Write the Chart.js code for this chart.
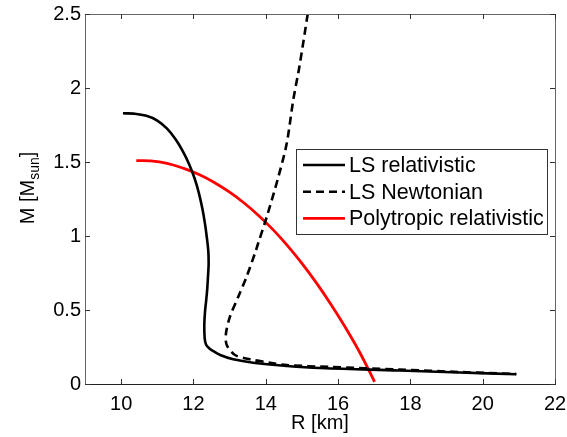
<!DOCTYPE html>
<html>
<head>
<meta charset="utf-8">
<script src="https://cdn.jsdelivr.net/npm/chart.js@4"></script>
<style>
  html, body { margin: 0; padding: 0; background: #fff; }
  canvas { display: block; }
</style>
</head>
<body>
<canvas id="grafico" width="567" height="437"></canvas>
<script>
// valori (R in km, M in masse solari)
const lsRelR = [10.05, 10.35, 10.7, 11.0, 11.27, 11.5, 11.7, 11.88, 12.03, 12.15, 12.25, 12.32, 12.37, 12.41, 12.42, 12.41, 12.38, 12.35, 12.32, 12.30, 12.31, 12.35, 12.45, 12.55, 12.74, 13.10, 13.65, 14.59, 15.5, 17.7, 19.36, 20.93]
const lsRelM = [1.829, 1.827, 1.812, 1.78, 1.725, 1.655, 1.575, 1.485, 1.39, 1.29, 1.18, 1.08, 0.99, 0.90, 0.82, 0.76, 0.64, 0.56, 0.49, 0.40, 0.31, 0.265, 0.238, 0.222, 0.196, 0.167, 0.144, 0.122, 0.108, 0.091, 0.078, 0.066]

const lsNewtR = [15.16, 14.93, 14.76, 14.58, 14.35, 14.03, 13.79, 13.70, 13.47, 13.24, 13.01, 12.90, 12.92, 13.15, 13.56, 14.12, 14.58, 15.77, 17.70, 19.36, 20.93]
const lsNewtM = [2.5, 2.144, 1.919, 1.626, 1.401, 1.131, 0.951, 0.883, 0.725, 0.590, 0.455, 0.343, 0.264, 0.196, 0.167, 0.144, 0.128, 0.115, 0.098, 0.081, 0.068]

const polyR = [10.42, 10.81, 11.27, 11.73, 12.2, 12.6, 13.0, 13.4, 13.8, 14.2, 14.6, 15.0, 15.4, 15.8, 16.2, 16.6, 17.01]
const polyM = [1.509, 1.507, 1.491, 1.457, 1.411, 1.358, 1.296, 1.223, 1.139, 1.043, 0.935, 0.815, 0.683, 0.539, 0.383, 0.213, 0.015]

const serieLabels = ['LS relativistic', 'LS Newtonian', 'Polytropic relativistic']
const xTickVals = [10, 12, 14, 16, 18, 20, 22]
const yTickVals = [0, 0.5, 1, 1.5, 2, 2.5]

function punti(xs, ys) {
    return xs.map((x, i) => ({x: x, y: ys[i]}))
}

const FONT = 'Liberation Sans, Arial, Helvetica, sans-serif'

// cornice, tacche interne, titoli assi e legenda
const cornice = {
    id: 'cornice',
    afterDraw(chart) {
        const ctx = chart.ctx
        const a = chart.chartArea
        const sx = chart.scales.x
        const sy = chart.scales.y
        ctx.save()
        ctx.lineWidth = 1
        ctx.strokeStyle = '#666'
        ctx.strokeRect(a.left + 0.5, a.top + 0.5, a.right - a.left, a.bottom - a.top)
        ctx.strokeStyle = '#222'
        ctx.beginPath()
        ctx.moveTo(a.left, a.bottom + 0.5)
        ctx.lineTo(a.right + 1, a.bottom + 0.5)
        ctx.stroke()

        ctx.strokeStyle = '#333'
        ctx.beginPath()
        xTickVals.forEach((v) => {
            const px = Math.round(sx.getPixelForValue(v)) + 0.5
            ctx.moveTo(px, a.bottom); ctx.lineTo(px, a.bottom - 5)
            ctx.moveTo(px, a.top); ctx.lineTo(px, a.top + 5)
        })
        yTickVals.forEach((v) => {
            const py = Math.round(sy.getPixelForValue(v)) + 0.5
            ctx.moveTo(a.left, py); ctx.lineTo(a.left + 5, py)
            ctx.moveTo(a.right, py); ctx.lineTo(a.right - 5, py)
        })
        ctx.stroke()

        // titolo asse x
        ctx.fillStyle = '#000'
        ctx.font = '20px ' + FONT
        ctx.textAlign = 'center'
        ctx.textBaseline = 'middle'
        ctx.fillText('R [km]', (a.left + a.right) / 2, 423)

        // titolo asse y con pedice
        ctx.translate(27, 188)
        ctx.rotate(-Math.PI / 2)
        ctx.textAlign = 'left'
        ctx.textBaseline = 'alphabetic'
        const t1 = 'M [M'
        ctx.font = '20px ' + FONT
        const w1 = ctx.measureText(t1).width
        ctx.font = '14px ' + FONT
        const w2 = ctx.measureText('sun').width
        ctx.font = '20px ' + FONT
        const w3 = ctx.measureText(']').width
        let x0 = -(w1 + w2 + w3) / 2
        ctx.fillText(t1, x0, 7)
        ctx.font = '14px ' + FONT
        ctx.fillText('sun', x0 + w1, 12)
        ctx.font = '20px ' + FONT
        ctx.fillText(']', x0 + w1 + w2, 7)
        ctx.setTransform(1, 0, 0, 1, 0, 0)

        // legenda
        ctx.fillStyle = '#fff'
        ctx.fillRect(296, 149, 251, 85)
        ctx.strokeStyle = '#333'
        ctx.strokeRect(296.5, 149.5, 251, 85)
        ctx.font = '21.5px ' + FONT
        ctx.textBaseline = 'middle'
        ctx.textAlign = 'left'
        chart.data.datasets.forEach((ds, i) => {
            const y = 165 + i * 26.7
            ctx.strokeStyle = ds.borderColor
            ctx.lineWidth = ds.borderWidth
            ctx.setLineDash(ds.borderDash || [])
            ctx.beginPath()
            ctx.moveTo(303, y); ctx.lineTo(345, y)
            ctx.stroke()
            ctx.setLineDash([])
            ctx.fillStyle = '#000'
            ctx.fillText(ds.label, 349, y + 1)
        })
        ctx.restore()
    }
}

new Chart(document.getElementById('grafico'), {
    type: 'scatter',
    data: {
        datasets: [{
            label: serieLabels[0],
            data: punti(lsRelR, lsRelM),
            showLine: true,
            borderColor: '#000',
            borderWidth: 2.6,
            pointRadius: 0,
            tension: 0.4
        }, {
            label: serieLabels[1],
            data: punti(lsNewtR, lsNewtM),
            showLine: true,
            borderColor: '#000',
            borderWidth: 2.6,
            borderDash: [8, 5],
            pointRadius: 0,
            tension: 0.3
        }, {
            label: serieLabels[2],
            data: punti(polyR, polyM),
            showLine: true,
            borderColor: '#ff0000',
            borderWidth: 2.8,
            pointRadius: 0,
            tension: 0.4
        }]
    },
    options: {
        responsive: false,
        animation: false,
        devicePixelRatio: 1,
        layout: { padding: { top: 14, right: 12, left: 0, bottom: 0 } },
        plugins: {
            legend: { display: false },
            tooltip: { enabled: false }
        },
        scales: {
            x: {
                type: 'linear',
                min: 9,
                max: 22,
                grid: { display: false, drawTicks: false },
                border: { display: false },
                afterBuildTicks: (scale) => { scale.ticks = xTickVals.map((v) => ({value: v})) },
                afterFit: (scale) => {
                    scale.height = 53
                    scale.paddingLeft = 0
                    scale.paddingRight = 0
                },
                ticks: {
                    padding: 8,
                    color: '#000',
                    font: { family: FONT, size: 20 },
                    maxRotation: 0
                }
            },
            y: {
                type: 'linear',
                min: 0,
                max: 2.5,
                grid: { display: false, drawTicks: false },
                border: { display: false },
                afterBuildTicks: (scale) => { scale.ticks = yTickVals.map((v) => ({value: v})) },
                afterFit: (scale) => {
                    scale.width = 85
                    scale.paddingTop = 0
                    scale.paddingBottom = 0
                },
                ticks: {
                    padding: 4,
                    color: '#000',
                    font: { family: FONT, size: 20 },
                    callback: (v) => String(v)
                }
            }
        }
    },
    plugins: [cornice]
})
</script>
</body>
</html>
